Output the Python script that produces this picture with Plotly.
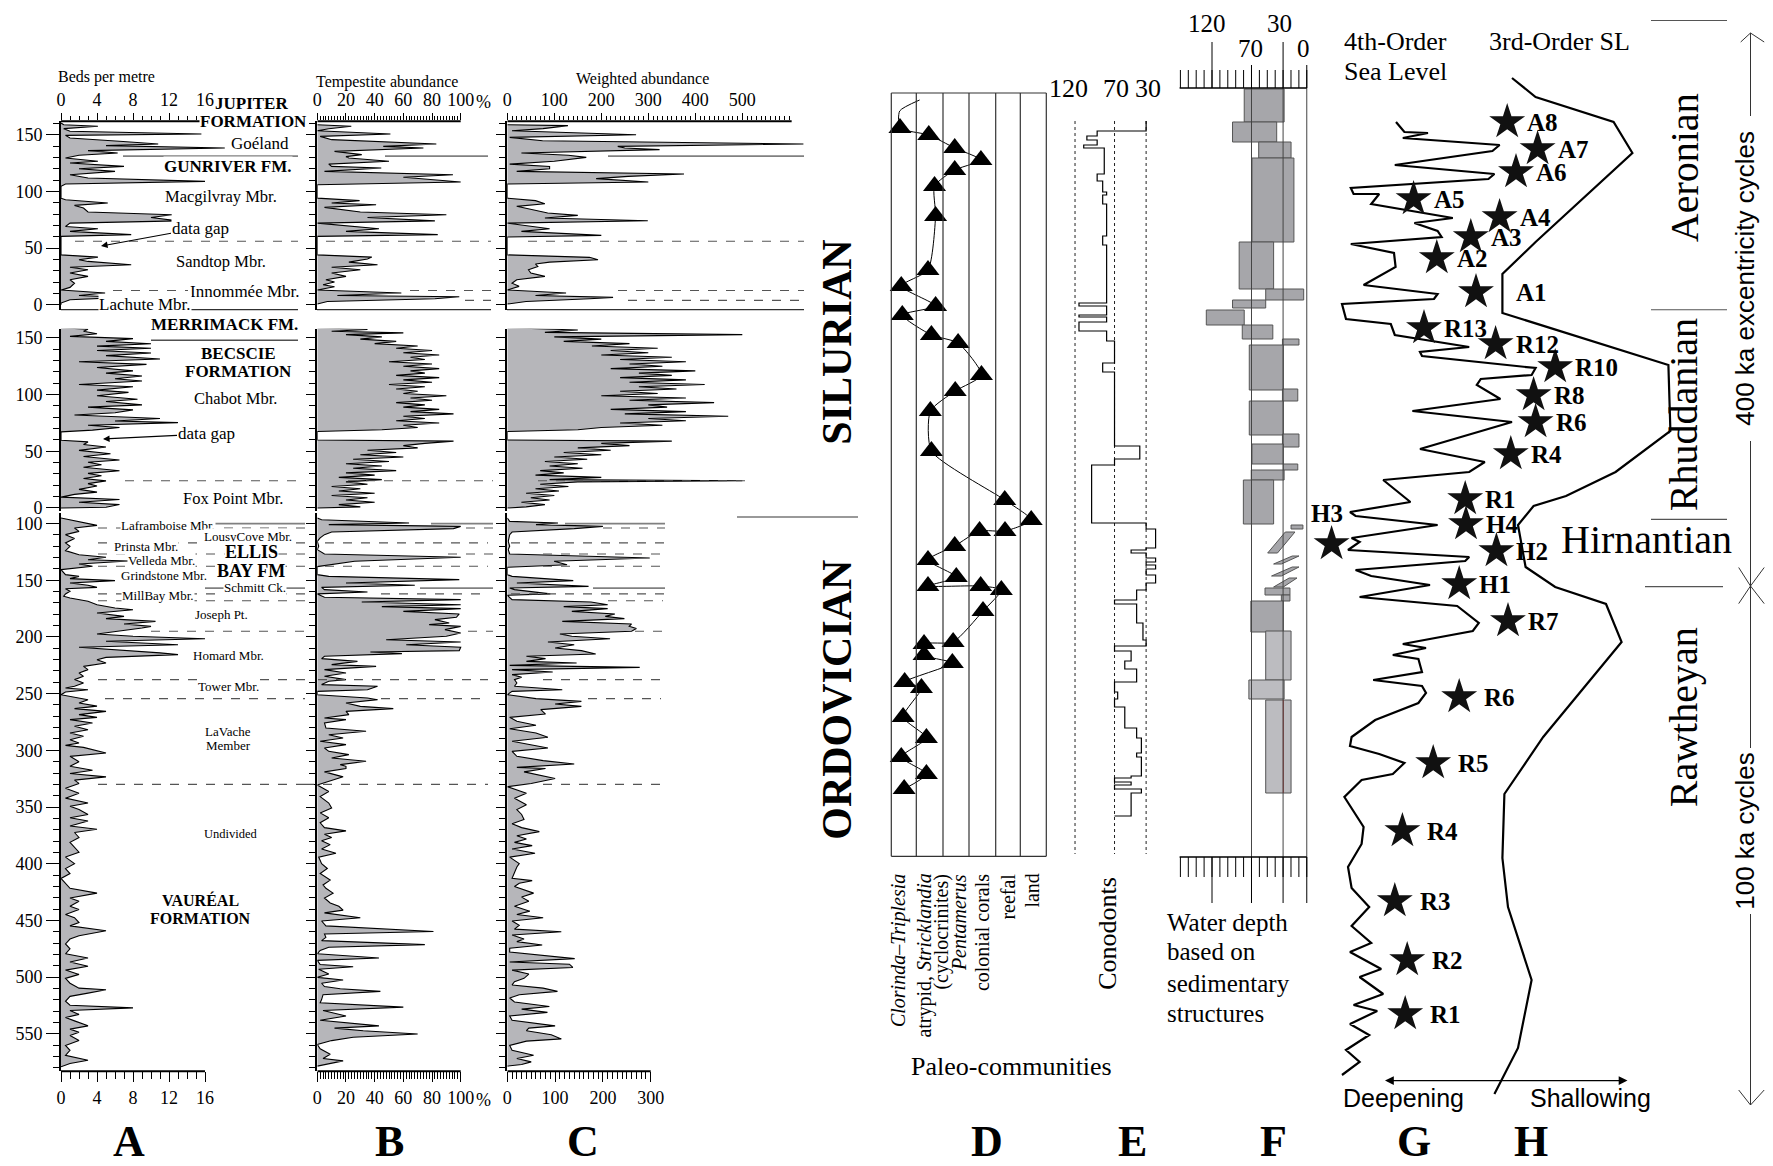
import plotly.graph_objects as go

W, H = 1773, 1166
SERIF = "Liberation Serif, Times New Roman, serif"
SANS = "Liberation Sans, Arial, sans-serif"
FILL = "#b6b6ba"

# ======================= DATA =======================
# Panels A-C : (stratigraphic position in m, value)
# Upper section (Jupiter / Gunriver), height in m
beds_upper = [(160.3,0),(158.8,0.3),(157.4,4.1),(155.3,0.3),(153,1),(150.6,15.6),(149.4,0.5),(147,1),(144,6.9),
 (141.8,10.8),(140.3,5),(138.2,18.2),(135.9,3),(133.8,6.3),(131.8,2),(129.4,0.5),(126.5,4.1),(125,1),(122,7),
 (120,2),(117.6,6),(114.7,1),(111.8,3),(108.8,16),(106.5,0.5),(104.4,0),(94,0),(92.6,0.5),(89.7,5.2),(87.6,1.5),
 (85.3,2.5),(81.8,3),(79.4,12.3),(77,10),(74,13),(72,1),(69,0.5),(67,4.1),(64.7,1),(61.8,7.8),(60.3,0),(44,0),
 (42,4.1),(39.7,2),(38.2,3),(35.3,7.8),(33,1),(30.9,3),(28,1),(25,3),(22,1),(19,1.5),(15.3,1),(13,0),(10.3,4.9),
 (8.2,2),(6.5,7),(4.4,1),(1.5,0),(0,0)]
temp_upper = [(158.8,0),(157.4,23.7),(155.3,8),(153.5,0),(150.6,51),(148.5,2),(145.6,10),(141.8,83),(139.7,46),
 (138.2,74),(135.3,12),(132.4,31),(130.6,20),(129.4,22),(126.5,50),(124,8),(122,10),(120.6,44.6),(117.6,5),
 (114.7,94.6),(112.4,60),(108.2,100),(105.9,0),(94,0),(91.8,29.5),(89.7,10),(88.2,41),(85.9,5),(81.8,30),(79.4,90),
 (77,35),(74,82),(72,0),(67,43),(64.7,20),(61.8,84),(60.3,0),(44,0),(42,38),(40.3,35),(37.6,22),(35.3,42),(33,10),
 (30.9,30),(28,10),(25,20),(22,6),(20,12),(17.6,4),(15.9,12),(13,0),(10.3,58.6),(8.2,14),(7,99),(5.3,82),(2.9,7),(0.6,0)]
wab_upper = [(158.8,0),(158,129),(155.3,76),(153.5,10),(150,274),(147.6,5),(144.7,75),(141.8,630),(139.7,235),
 (138.2,250),(136.8,324),(133.8,30),(131.8,130),(130,168),(126.5,100),(124,5),(122,90),(120,90),(117.6,20),
 (115.3,376),(113.2,257),(111.2,189),(108.2,300),(106.5,0),(94,0),(91.8,60),(89.1,80),(86.8,20),(80.9,86),(78.8,150),
 (76.5,80),(74.1,299),(72,0),(67,90),(64.7,30),(61.2,200),(59.7,0),(44,0),(41.8,175),(39.7,193),(37.6,90),(35.9,60),
 (33.8,65),(30.9,45),(28,50),(25,80),(22,20),(19,10),(16.2,25),(13,0),(10.3,125),(8.2,60),(6.5,225),(5.3,175),
 (2.9,40),(0.6,0)]

# Becscie section, height in m
beds_becscie = [(159,0),(157.7,3),(156,2.5),(153.8,4),(151.4,1),(149.4,8),(147,5),(144.9,10),(142.8,4),(141,10),
 (139,4),(136.8,10),(134.4,5),(131.5,11),(129,2),(126.7,9.5),(124,4),(121,8),(119,5),(116.5,9),(114,6),(112,9),
 (109,2),(107,8),(104,4),(102,7.5),(99,4),(96,8.5),(94,5),(91,9),(89,3),(86.6,8),(84,6),(82,1.5),(79,11),(76.8,6),
 (75.3,13),(73,3),(71,6.5),(68.7,3.5),(67.2,0),(59.8,0),(58.3,3),(56,2.5),(53.8,5),(50.8,2),(47.8,5.5),(45.4,2.5),
 (42.4,6.5),(40.3,3),(38.2,4.5),(35.9,2.5),(32.9,6.5),(30.5,3),(28.4,4.5),(26,2.5),(23.9,5),(21.5,3),(19.4,4),
 (16.4,2),(14,4),(12,1.5),(9.6,0),(7.5,6.5),(5.1,2),(3,6.5),(0.6,5),(0,0)]
temp_becscie = [(159,0),(157.5,35),(156,10),(154.5,60),(153,20),(151,45),(149,30),(147,55),(145,40),(143,70),(141,55),
 (139,80),(137,60),(135,85),(133,65),(131,75),(129,50),(127,80),(125,60),(123,85),(121,65),(119,75),(117,55),(115,85),
 (113,60),(111,80),(109,50),(107,75),(105,55),(103,70),(101,60),(99,90),(97,65),(95,80),(93,55),(91,75),(89,60),
 (87,85),(85,65),(83,95),(81,60),(79,75),(77,55),(75,85),(73,60),(71,70),(69,45),(67.5,0),(60,0),(59,95),(57,75),
 (55,60),(53,70),(51,35),(49,55),(47,30),(45,60),(43,25),(41,50),(39,20),(37,45),(35,25),(33,55),(31,20),(29,40),
 (27,15),(25,45),(23,20),(21,35),(19,10),(17,30),(15,15),(13,40),(11,10),(9,35),(7,20),(5,40),(3,15),(1,30),(0,0)]
wab_becscie = [(159,0),(157,150),(155,80),(153,500),(151,100),(149,200),(147,120),(145,260),(143,180),(141,320),
 (139,220),(137,300),(135,200),(133,350),(131,240),(129,380),(127,260),(125,330),(123,220),(121,400),(119,280),
 (117,350),(115,240),(113,380),(111,260),(109,420),(107,280),(105,360),(103,240),(101,320),(99,200),(97,380),
 (95,260),(93,440),(91,300),(89,340),(87,220),(85,380),(83,250),(81,470),(79,300),(77,380),(75,240),(73,330),
 (71,200),(69,150),(67.5,0),(60,0),(59,350),(57,200),(55,260),(53,150),(51,220),(49,120),(47,200),(45,100),
 (43,170),(41,80),(39,150),(37,90),(35,160),(33,70),(31,120),(29,60),(27,200),(25,90),(24,500),(23,150),(21,70),
 (19,130),(17,60),(15,110),(13,40),(11,100),(9,50),(7,90),(5,30),(3,80),(1,40),(0,0)]

# Ellis Bay / Vaureal section, depth in m
beds_lower = [(95,0),(96.5,1),(99.4,3),(101.5,4),(103.8,1.5),(106.8,2),(109.7,0.5),(113.2,1.5),(117,0.5),(120,1),
 (123.8,0.5),(127.4,2),(129.7,5),(131.8,3),(133,7.5),(135.6,2),(137.6,3.5),(140.6,0),(145,0.5),(146.5,2),(148.5,1),
 (150.3,6),(152.4,1),(154.4,3),(156.2,4),(157.4,0.5),(159.7,1),(162,0.5),(164,0.3),(165.6,1),(168.5,3),(171.5,4),
 (174.4,6),(175.9,8),(178.8,4),(181.8,7),(183.8,5),(186.2,10.5),(188.5,7),(190.6,10),(192,9),(195,6),(197.4,4),
 (199.4,8),(201.5,16),(203.8,5),(206.8,13),(209,2),(211,6),(214,11),(215.6,13),(218,5),(220,4),(223,5),(225.9,2.5),
 (228.8,3),(231.8,2),(234.7,2.5),(237.6,1.5),(240.6,2.5),(243.5,1.5),(245,0.5),(246.5,3),(248.5,0.5),(250.9,0),
 (252.4,1),(255.3,3),(258.2,2),(261,4),(263.2,1.5),(265.6,5),(268.5,2),(270.9,4),(272.9,1),(275.9,3.5),(278.8,1.5),
 (281.8,3),(284.7,1),(287.6,2.5),(290.6,1),(293.5,2),(295.6,0.5),(297.4,2.5),(302.4,5),(305.3,1),(310,2),(314,1),
 (317.6,3.5),(320.5,1),(323.4,5),(326.3,1.5),(329.2,2),(333.5,0.5),(337.9,2),(342.2,0.5),(346.5,3),(349.4,1),
 (352.3,2),(356.6,3),(359.5,1),(362.4,3),(366.8,1),(369.7,4),(372.5,1.5),(376.9,2),(381.2,1),(385.5,1.5),(389.9,2),
 (394.2,0.5),(400,1.5),(404.3,0.5),(408.7,1),(413,0),(417.3,0.5),(421.7,1),(426,4),(430.3,1),(433.2,2),(437.6,1),
 (440.5,2),(444.8,0.5),(447.7,1.5),(452,2),(454.9,1),(459.2,5),(463.6,2),(466.5,1),(470.8,0.5),(475.1,1),(479.5,0.5),
 (483.2,3),(486.7,1),(490.5,3),(493.9,0.5),(497.7,2),(501.2,0.5),(505.5,1),(509.8,2),(511.3,5),(514.2,3),(517.1,1),
 (521.4,0.5),(524.9,1),(527.2,8),(529.5,1),(533,2),(535.8,0.5),(538.7,1.5),(543.1,3),(546,1),(548.8,2),(551.7,1),
 (556.1,2),(560.4,0.5),(564.7,1),(569.1,0.5),(573.4,3),(576.3,1),(579.2,0)]
temp_lower = [(95,0),(96.5,3),(99.4,64),(100.9,8),(102.4,100),(104.4,95),(107.4,10),(109.7,5),(112.6,2),(115.6,0),
 (120,1),(122.9,0),(126.8,5),(129.7,100),(133.2,26),(136.2,8),(137.9,0),(145,0),(146.5,8),(149.4,99),(152.4,20),
 (154.4,68),(156.2,3),(158.2,5),(160.3,35),(162,0),(165,5),(167,100),(169.1,31),(171.5,100),(173.2,45),(175,100),
 (177.4,60),(179.7,99),(182.6,97),(184.7,82),(187.6,92),(189.1,78),(190.6,100),(193.5,89),(196.5,100),(199.4,90),
 (202.4,48),(204.4,100),(206.8,62),(209.1,100),(212,99),(213.2,37),(214.7,59),(217,5),(219.1,3),(221.5,28),
 (224.4,10),(225.9,41),(228.8,5),(231.8,20),(234.7,5),(237.6,20),(239.1,8),(242,3),(243.5,42),(246.5,35),(248,0),
 (250.9,0),(253.8,35),(255.3,42),(258.2,20),(261.2,30),(263.2,53),(265.6,20),(268.5,22),(271.5,5),(272.9,20),
 (275.9,5),(280.3,6),(283.2,34),(286.2,8),(289.1,18),(292,2),(295,20),(297.9,5),(300.9,8),(303.8,22),(306.8,10),
 (309.7,34),(312.6,16),(314.1,20),(316,20),(319,5),(323.4,18),(327.7,8),(330.6,0),(336.4,8),(340.8,2),(346.5,8),
 (350.9,10),(355.2,2),(359.5,8),(363.9,2),(368.2,5),(371.1,20),(374,5),(376.9,10),(379.8,3),(383.2,9),(387,3),
 (390.8,13),(394.2,1),(400,3),(404.3,7),(408.7,2),(414.5,9),(418.8,4),(421.7,6),(426,11),(430.3,5),(434.7,9),
 (437.6,15),(441,18),(443.4,5),(447.7,30),(450.6,3),(454.9,6),(459.8,81),(462.1,5),(465,6),(467.9,3),(471.4,75),
 (473.7,8),(476.6,2),(479.5,0),(483.2,43),(485.3,0),(489,2),(491,25),(493.1,1),(497.4,8),(500.3,0),(502.6,18),
 (505.5,3),(508.4,5),(510.4,16),(512.7,44),(515.6,4),(519.9,3),(522.8,2),(526.6,60),(529.5,4),(534.4,20),(538.2,2),
 (543.1,43),(545.1,12),(547.4,32),(550.3,70),(553.2,25),(556.1,10),(559.5,0),(563.3,2),(568.2,9),(571.9,4),(574,18),
 (576.3,8),(578.6,0)]
wab_lower = [(95,0),(98,5),(99.4,106),(100.9,60),(102.4,200),(104.4,140),(107.4,10),(109.7,5),(115.6,2),(120,5),
 (122.9,2),(126.8,5),(130.3,298),(133.2,98),(136.2,125),(138.5,0),(145,0),(146.5,10),(150.3,138),(152.4,20),
 (155.3,170),(156.8,5),(158.2,15),(162,90),(163.2,0),(167,10),(169.1,175),(171.5,210),(173.2,118),(175,210),
 (177.4,135),(179.7,225),(181.8,205),(183.8,245),(186.2,115),(188.5,260),(190.6,255),(192.6,270),(195,260),
 (197.4,110),(199.4,135),(201.5,215),(204.4,85),(206.8,140),(209.7,100),(212,155),(215,185),(217,40),(219.1,80),
 (221.5,40),(223,145),(225,5),(226.8,277),(228.8,10),(230.9,95),(233.2,10),(235.6,30),(237.6,15),(240.6,20),
 (243.5,15),(246.5,115),(248,10),(250.9,0),(254.4,60),(256.8,155),(259.1,100),(261.2,155),(264.1,70),(268,80),
 (270.9,5),(274.4,20),(277.9,60),(280.9,5),(284.7,60),(288.5,85),(292,10),(297.9,85),(300.9,10),(305.3,20),
 (309.1,75),(312.1,140),(315,20),(316,80),(319,35),(324.9,100),(329.2,50),(332.1,0),(337.9,40),(342.2,15),(348,40),
 (352.3,20),(356.6,30),(361,35),(364.7,10),(368.2,30),(371.7,67),(375.4,20),(378.3,40),(381.2,15),(384.1,52),(387,10),
 (390.8,58),(394.2,5),(400,25),(402.9,20),(407.2,15),(413,10),(415,52),(417.3,25),(420.2,15),(426,55),(429.5,30),
 (433.2,45),(437.6,15),(441.9,47),(444.8,20),(447.7,75),(450.6,10),(454.3,25),(457.8,15),(460.1,113),(463,10),
 (466.5,35),(468.8,20),(471.7,73),(474.6,5),(478,5),(483.8,141),(486.7,5),(488.7,130),(491.6,137),(493.9,10),
 (497.4,45),(501.2,35),(504.1,15),(507,10),(509.8,75),(512.7,105),(515.6,25),(518.5,5),(522,15),(526,88),(528.3,30),
 (531.2,84),(534.4,5),(538.2,10),(543.1,100),(545.1,45),(547.4,40),(550.9,92),(554.6,113),(556.6,40),(560.4,5),
 (564.7,10),(569.1,55),(571.9,20),(574.9,50),(577.2,30),(578.6,0)]

# member boundaries (m)
upper_dashed = [56.0, 12.6, 3.8]
upper_goeland = 131.0
upper_base = -4.4
becscie_dashed = [24.0]
becscie_merrimack = 148.0
lower_dashed = [103.8, 117.0, 126.8, 137.6, 162.0, 168.0, 195.0, 237.6, 254.4, 330.0]
lower_solid = [100.0, 156.8]

# Right-hand columns share one relative stratigraphic level scale (0 bottom .. 116.6 top)
# D: paleo-communities (community column index, level)
d_lead = [(1.74, 107.4), (0.98, 106.3)]
d_triangles = [(0.99,104.6),(2.09,103.9),(3.08,102.6),(4.08,101.4),(3.08,100.4),(2.31,98.8),(2.35,95.8),(2.06,90.4),
 (1.04,88.8),(2.35,86.8),(1.08,85.9),(2.19,83.9),(3.21,83.1),(4.1,79.9),(3.1,78.3),(2.15,76.3),(2.19,72.3),(4.99,67.4),
 (6.0,65.4),(5.0,64.3),(4.03,64.3),(3.08,62.8),(2.06,61.4),(3.14,59.7),(2.06,58.8),(4.07,58.8),(4.86,58.4),(4.16,56.3),
 (3.02,53.2),(1.91,53.0),(1.91,51.9),(2.99,51.1),(1.17,49.2),(1.81,48.6),(1.11,45.7),(2.0,43.6),(1.04,41.7),(2.0,40.0),
 (1.15,38.5)]
communities = ["<i>Clorinda–Triplesia</i>", "atrypid, <i>Stricklandia</i>", "(cyclocrinites)", "<i>Pentamerus</i>",
               "colonial corals", "reefal", "land"]

# E: conodont water depth (m), step profile: (level where interval starts, depth)
e_steps = [(105.3,30),(104.3,92),(103.8,105),(103.4,92),(102.9,109),(102.6,83),(100.0,92),(99.3,85),(98.2,80),
 (97.9,85),(97.0,80),(93.8,85),(92.9,80),(87.1,115),(86.8,80),(85.9,115),(85.7,80),(85.2,115),(84.3,80),(83.3,70),
 (81.1,85),(80.2,70),(72.8,38),(71.5,70),(70.9,99),(65.1,30),(64.5,18),(62.6,30),(62.4,49),(62.1,30),(61.6,18),
 (61.2,30),(60.9,18),(60.5,30),(59.9,18),(59.1,30),(58.4,42),(57.4,70),(57.0,42),(55.1,34),(53.4,30),(52.8,70),
 (52.3,49),(51.3,57),(50.5,42),(49.2,70),(48.2,66),(47.5,70),(46.7,57),(44.6,42),(43.6,36),(42.1,42),(41.7,36),
 (39.8,49),(39.6,70),(39.2,49),(38.9,70),(38.5,36),(38.1,49),(35.8,70)]
e_ref_depths = [120, 70, 30]

# F: water depth from sedimentary structures: (level top, level bottom, deep limit m, shallow limit m)
f_boxes = [(108.5,105.2,79.2,28.7),(105.2,103.2,94.0,38.1),(103.2,101.6,60.9,19.9),(101.6,93.2,69.4,16.3),
 (93.2,88.5,85.6,42.0),(88.5,87.4,52.0,3.9),(87.4,86.6,94.0,52.0),(86.4,84.9,127.2,79.2),(84.9,83.5,81.7,43.0),
 (83.5,82.9,30.8,9.9),(82.9,78.4,72.8,29.7),(78.5,77.3,30.8,11.4),(77.3,73.9,72.8,29.7),(74.0,72.7,30.8,9.9),
 (73.0,71.0,69.4,29.7),(71.0,70.4,29.7,11.4),(70.4,69.4,70.3,28.7),(69.4,65.0,80.3,42.0),(64.9,64.5,19.9,4.9),
 (58.6,57.9,52.9,21.3),(57.9,57.3,32.2,21.3),(57.3,54.2,70.8,29.7),(54.3,49.4,52.0,19.9),(49.4,47.5,73.3,28.7),
 (47.4,38.1,52.0,19.9)]
f_slants = [[(49.5,62.1),(27.2,64.2),(15.0,64.2),(37.1,62.1)],
            [(42.0,61.0),(18.4,61.8),(9.9,61.8),(32.2,61.0)],
            [(44.6,59.8),(18.4,60.7),(9.9,60.7),(32.2,59.8)],
            [(42.0,58.7),(22.3,59.6),(12.4,59.6),(29.7,58.7)]]
f_ref_depths = [70, 30, 0]

# G: 4th-order sea level (relative, shallowing to the right), H: 3rd-order sea level
g_curve = [(22,105.2),(24.1,104.2),(30,104.1),(23.7,103.6),(47.9,102.9),(46.1,102.3),(21.7,100.9),(46.6,100),
 (45.1,99.5),(10.7,98.6),(11.4,98),(17.8,98),(15.8,97.0),(24.1,96.4),(36.2,95.6),(26.6,95.1),(32.4,94.3),(33.4,93.7),
 (10.7,93),(21.5,92.1),(21.9,90.7),(13.9,88.9),(32.4,88),(31.5,87.5),(8.5,87),(9.5,85.5),(20.7,85),(21.7,83.9),
 (40.3,82.7),(28,82.2),(28.5,81.8),(56.9,80.6),(55.9,79.9),(43.2,79.5),(42.2,78.9),(48.1,77.5),(26.1,76.3),(51,75.2),
 (28,72.5),(44.2,71.2),(40.3,70.2),(18.8,69.4),(25.6,67.2),(10.5,66.2),(11.9,65.8),(32.4,64.9),(10.9,63.6),
 (12.9,63.2),(10,62.4),(40.3,61.7),(39.3,61.3),(11.9,60.4),(15.8,59.8),(30.5,58.9),(27.6,58.7),(12.9,57.7),
 (37.3,56.8),(42.7,55.1),(41.2,54.3),(23.7,53),(29.5,52.6),(21.2,51.9),(27.6,51.5),(28.5,50.2),(16.3,49.4),
 (28.5,48.8),(29.5,48.1),(27.6,47.1),(16.8,45.4),(10.9,43.7),(10.5,42.8),(17.8,42),(24.1,41.1),(21.2,40),(13.4,39.4),
 (9.1,37.7),(13.9,34.7),(13.4,33),(10,30.7),(10.9,28.6),(15.3,26.7),(10.9,24.8),(15.8,23.1),(10.5,22.2),(18.3,20.5),
 (12.9,19.7),(18.8,18),(11.4,16.9),(17.3,16.3),(10.5,15),(15.3,13.9),(9.5,12.4),(12.9,11.2),(8.5,9.9)]
h_curve = [(51,109.6),(56.9,107.7),(76.4,105.2),(81.1,102.1),(56.9,93.2),(48.6,90),(48.6,86.1),(90.1,80.9),
 (90.6,74.3),(76.9,70.2),(64.5,67.8),(56.4,66.8),(52.5,64.9),(54.4,60.7),(61.8,58.7),(74.5,57),(78.4,53.2),
 (58.8,43.7),(49.1,38),(48.6,31.6),(50,26.7),(55.9,19.4),(52.5,12.6),(46.6,8)]
star_names = ['A8','A7','A6','A5','A4','A3','A2','A1','R13','R12','R10','R8','R6','R4','R1','H4','H3','H2','H1',
              'R7','R6','R5','R4','R3','R2','R1']
star_x = [49.8,57.4,52,26.4,47.9,40.7,32.2,42,29,46.9,61.8,56.4,56.9,50.7,39.3,39.5,5.9,47.1,37.8,50,37.8,31.3,23.6,
          21.7,24.8,24.3]
star_level = [105.2,102.5,100.2,97.5,95.7,93.7,91.6,88.2,84.6,83,80.7,77.9,75.2,72,67.5,65,63,62.3,59,55.3,47.7,41.1,
              34.3,27.3,21.4,16]

# ======================= FIGURE =======================
fig = go.Figure()
shapes, annots = [], []
layout = dict(width=W, height=H, margin=dict(l=0, r=0, t=0, b=0), paper_bgcolor='white',
              plot_bgcolor='rgba(0,0,0,0)', showlegend=False, template='none')


def tref(i, a):
    return a if i == 1 else f"{a}{i}"


def lkey(i, a):
    return f"{a}axis" if i == 1 else f"{a}axis{i}"


def dx(a, b):
    return [a / W, b / W]


def dy(top, bot):
    return [1 - bot / H, 1 - top / H]


def txt(x, y, s, size, family=SERIF, angle=0, xanchor='center', yanchor='middle', bg=None):
    # compensate for the text box being centred lower than the glyphs
    if angle == 0 and yanchor == 'middle':
        y -= 0.28 * size
    if angle == -90 and xanchor == 'center':
        x -= 0.22 * size
    d = dict(x=x / W, y=1 - y / H, xref='paper', yref='paper', text=s, showarrow=False,
             font=dict(family=family, size=size, color='black'), textangle=angle,
             xanchor=xanchor, yanchor=yanchor)
    if bg:
        d.update(bgcolor=bg, borderpad=0)
    annots.append(d)


def pline(x0, y0, x1, y1, color='black', width=1.0, dash='solid'):
    shapes.append(dict(type='line', xref='paper', yref='paper', x0=x0 / W, x1=x1 / W, y0=1 - y0 / H,
                       y1=1 - y1 / H, line=dict(color=color, width=width, dash=dash), layer='above'))


def dline(x0, x1, yref, yv, color='#555', width=1.1, dash='dash'):
    shapes.append(dict(type='line', xref='paper', yref=yref, x0=x0 / W, x1=x1 / W, y0=yv, y1=yv,
                       line=dict(color=color, width=width, dash=dash), layer='above'))


SECTIONS = {'upper': dict(top=113.3, bot=302.4, yr=[-5, 161.8]),
            'becscie': dict(top=320.7, bot=502.7, yr=[-2.4, 158.2]),
            'lower': dict(top=505.0, bot=1063.3, yr=[583.2, 90.6])}
PANELS = [(1, 'A', 'upper', beds_upper, 53, 290, 9.0), (2, 'A', 'becscie', beds_becscie, 53, 290, 9.0),
          (3, 'A', 'lower', beds_lower, 53, 290, 9.0),
          (4, 'B', 'upper', temp_upper, 309.3, 490, 1.434), (5, 'B', 'becscie', temp_becscie, 309.3, 490, 1.434),
          (6, 'B', 'lower', temp_lower, 309.3, 490, 1.434),
          (7, 'C', 'upper', wab_upper, 499.3, 800, 0.47), (8, 'C', 'becscie', wab_becscie, 499.3, 800, 0.47),
          (9, 'C', 'lower', wab_lower, 499.3, 660, 0.478)]
RULERS = {
    'A': dict(tv=[0, 4, 8, 12, 16], tt=['0', '4', '8', '12', '16'], mv=list(range(0, 17)), end=16),
    'B': dict(tv=list(range(0, 101, 10)), tt=['0', '', '20', '', '40', '', '60', '', '80', '', '100'],
              mv=list(range(0, 101, 2)), end=100),
    'Cupper': dict(tv=list(range(0, 601, 50)),
                   tt=['0', '', '100', '', '200', '', '300', '', '400', '', '500', '', ''],
                   mv=list(range(0, 601, 10)), end=605),
    'Clower': dict(tv=list(range(0, 301, 50)), tt=['0', '', '100', '', '200', '', '300'],
                   mv=list(range(0, 301, 10)), end=300),
}

for idx, col, sec, data, xl, xr, scale in PANELS:
    S = SECTIONS[sec]
    fig.add_trace(go.Scatter(x=[p[1] for p in data], y=[p[0] for p in data], xaxis=tref(idx, 'x'),
                             yaxis=tref(idx, 'y'), mode='lines', fill='tozerox', fillcolor=FILL,
                             line=dict(color='black', width=1.1), hoverinfo='skip'))
    rk = col if col != 'C' else ('Clower' if sec == 'lower' else 'Cupper')
    R = RULERS[rk]
    xa = dict(domain=dx(xl, xr), range=[0, (xr - xl) / scale], anchor=tref(idx, 'y'), showgrid=False,
              zeroline=False, showline=False)
    if sec == 'becscie':
        xa.update(visible=False)
    else:
        top = sec == 'upper'
        xa.update(side='top' if top else 'bottom', ticks='outside', tickvals=R['tv'], ticktext=R['tt'],
                  tickangle=0, ticklen=7 if top else 10, tickwidth=1.2, tickcolor='black',
                  tickfont=dict(family=SERIF, size=18, color='black'),
                  minor=dict(tickmode='array', tickvals=R['mv'], ticks='outside', ticklen=4 if top else 7,
                             tickwidth=1, tickcolor='black'))
        yline = S['top'] if top else S['bot']
        shapes.append(dict(type='line', xref=tref(idx, 'x'), yref='paper', x0=0, x1=R['end'],
                           y0=1 - yline / H, y1=1 - yline / H, line=dict(color='black', width=2)))
    layout[lkey(idx, 'x')] = xa
    if sec == 'lower':
        major = list(range(100, 551, 50))
        minor = [v for v in range(100, 581, 10) if v % 50]
    else:
        major = [0, 50, 100, 150]
        minor = [v for v in range(0, 161, 10) if v % 50]
    labels = col == 'A'
    layout[lkey(idx, 'y')] = dict(domain=dy(S['top'], S['bot']), range=S['yr'], anchor=tref(idx, 'x'),
                                  showline=True, linecolor='black', linewidth=2, ticks='outside',
                                  ticklen=13 if labels else 9, tickwidth=1.3, tickcolor='black', tickvals=major,
                                  showticklabels=labels, tickfont=dict(family=SERIF, size=18, color='black'),
                                  minor=dict(tickmode='array', tickvals=minor, ticks='outside', ticklen=6,
                                             tickwidth=1.1, tickcolor='black'),
                                  showgrid=False, zeroline=False)

# percent signs after the "100" of the tempestite rulers
txt(466, 99.5, "%", 18, xanchor='left')
txt(466, 1097, "%", 18, xanchor='left')

# ---- member boundaries, left panels
seg_upper = {56.0: [(67, 290), (318, 483), (520, 796)], 12.6: [(105, 180), (402, 483), (610, 796)],
             3.8: [(147, 180), (457, 483), (620, 796)]}
for dv in upper_dashed:
    for a, b in seg_upper[dv]:
        dline(a, b, 'y', dv)
for a, b in [(115, 290), (377, 480), (600, 796)]:
    dline(a, b, 'y', upper_goeland, color='#808080', width=1.8, dash='solid')
for a, b in [(53, 290), (309, 483), (499, 796)]:
    dline(a, b, 'y', upper_base, color='#303030', width=1.5, dash='solid')
for dv in becscie_dashed:
    for a, b in [(117, 290), (340, 485), (530, 740)]:
        dline(a, b, 'y2', dv)
dline(143, 290, 'y2', becscie_merrimack, color='#505050', width=1.5, dash='solid')
seg_lower = {103.8: [(90, 297), (458, 485), (595, 657)], 117.0: [(90, 297), (317, 480), (503, 657)],
             126.8: [(90, 297), (440, 485), (535, 657)], 137.6: [(90, 297), (317, 480), (535, 657)],
             162.0: [(90, 297), (373, 480), (503, 657)], 168.0: [(90, 297), (600, 655)],
             195.0: [(143, 297), (460, 485), (627, 657)], 237.6: [(90, 297), (310, 480), (535, 653)],
             254.4: [(97, 297), (373, 480), (580, 653)], 330.0: [(90, 297), (297, 480), (535, 653)]}
for dv in lower_dashed:
    for a, b in seg_lower[dv]:
        dline(a, b, 'y3', dv)
seg_solid = {100.0: [(207, 297), (423, 485), (557, 657)], 156.8: [(197, 297), (412, 485), (585, 657)]}
for dv in lower_solid:
    for a, b in seg_solid[dv]:
        dline(a, b, 'y3', dv, color='#808080', width=1.8, dash='solid')

# ---- left panel texts
txt(48, 73, "Beds per metre", 16, xanchor='left')
txt(306, 78, "Tempestite abundance", 16, xanchor='left')
txt(566, 75, "Weighted abundance", 16, xanchor='left')
for s, x, y, size in [("<b>JUPITER</b>", 243, 100, 17), ("<b>FORMATION</b>", 246, 118, 17),
                      ("Goéland", 252, 140, 17), ("<b>GUNRIVER FM.</b>", 220, 163, 17),
                      ("Macgilvray Mbr.", 213, 193, 16.5), ("Sandtop Mbr.", 213, 258, 16.5),
                      ("Innommée Mbr.", 237, 288, 17), ("Lachute Mbr.", 137, 301, 17),
                      ("<b>MERRIMACK FM.</b>", 216, 321, 17), ("<b>BECSCIE</b>", 230, 350, 17),
                      ("<b>FORMATION</b>", 230, 368, 17), ("Chabot Mbr.", 228, 395, 16.5),
                      ("Fox Point Mbr.", 225, 495, 16.5),
                      ("Laframboise Mbr.", 160, 521, 13), ("LousyCove Mbr.", 240, 532, 13),
                      ("Prinsta Mbr.", 138, 542, 13), ("<b>ELLIS</b>", 243, 549, 18),
                      ("Velleda Mbr.", 153, 556, 13), ("Grindstone Mbr.", 156, 571, 13),
                      ("<b>BAY FM</b>", 243, 568, 18), ("Schmitt Ck.", 247, 583, 13),
                      ("MillBay Mbr.", 150, 591, 13), ("Joseph Pt.", 213, 610, 13), ("Homard Mbr.", 220, 651, 13),
                      ("Tower Mbr.", 220, 682, 13), ("LaVache", 220, 727, 13), ("Member", 220, 741, 13),
                      ("Undivided", 223, 830, 12.5), ("<b>VAURÉAL</b>", 192, 896, 16),
                      ("<b>FORMATION</b>", 192, 915, 16)]:
    txt(x, y, s, size, bg='white')
for tip, tx in [((93, 238), (192, 220)), ((95, 431), (198, 426))]:
    annots.append(dict(x=tip[0] / W, y=1 - tip[1] / H, xref='paper', yref='paper', text="data gap",
                       showarrow=True, ax=tx[0] - tip[0], ay=tx[1] - tip[1], axref='pixel', ayref='pixel',
                       arrowhead=2, arrowsize=1.2, arrowwidth=1.1, arrowcolor='black',
                       font=dict(family=SERIF, size=17, color='black'), bgcolor='white', borderpad=0))

# ---- right side axes
layout['yaxis10'] = dict(domain=[0, 1], range=[0, 116.6], visible=False, anchor='x10')
layout['xaxis10'] = dict(domain=dx(883.3, 1038.3), range=[0.66, 6.576], visible=False, anchor='y10')
layout['xaxis11'] = dict(domain=dx(1060, 1160), range=[128.9, 2.3], visible=False, anchor='y10')
layout['xaxis12'] = dict(domain=dx(1160, 1310), range=[175.7, -14.2], visible=False, anchor='y10')
layout['xaxis13'] = dict(domain=dx(1300, 1700), range=[0, 100], visible=False, anchor='y10')

# ---- D paleo-communities
for xp in [883.3, 908.3, 935, 961, 987.7, 1012.3, 1038.3]:
    pline(xp, 85, xp, 848.3, color='#333', width=1.2)
pline(883.3, 85, 1038.3, 85, color='#333', width=1.2)
pline(883.3, 848.3, 1038.3, 848.3, color='#333', width=1.2)
path = d_lead + d_triangles
fig.add_trace(go.Scatter(x=[p[0] for p in path], y=[p[1] for p in path], xaxis='x10', yaxis='y10', mode='lines',
                         line=dict(color='black', width=1, shape='spline', smoothing=0.6), hoverinfo='skip'))
fig.add_trace(go.Scatter(x=[p[0] for p in d_triangles], y=[p[1] for p in d_triangles], xaxis='x10', yaxis='y10',
                         mode='markers', marker=dict(symbol='triangle-up', size=20, color='black'),
                         cliponaxis=False, hoverinfo='skip'))
for s, x in zip(communities, [895, 920, 937, 955, 978, 1004, 1028]):
    txt(x, 864, s, 20, angle=-90, yanchor='top')
txt(1003, 1066, "Paleo-communities", 26)
txt(838, 334, "<b>SILURIAN</b>", 42, angle=-90)
txt(838, 692, "<b>ORDOVICIAN</b>", 42, angle=-90)
pline(729, 509, 850, 509, color='#777', width=1.5)

# ---- E conodonts
for v in e_ref_depths:
    shapes.append(dict(type='line', xref='x11', yref='y10', x0=v, x1=v, y0=105.3, y1=32.0,
                       line=dict(color='#222', width=1, dash='dot'), layer='below'))
fig.add_trace(go.Scatter(x=[p[1] for p in e_steps], y=[p[0] for p in e_steps], xaxis='x11', yaxis='y10',
                         mode='lines', line=dict(color='black', width=1.2, shape='vh'), hoverinfo='skip'))
for s, x in [("120", 1060), ("70", 1108), ("30", 1140)]:
    txt(x, 88, s, 26)
txt(1105, 867, "Conodonts", 26, angle=-90, yanchor='top')

# ---- F water depth
for k, (lt, lb, vd, vs) in enumerate(f_boxes):
    col = '#bcbcc0' if k >= len(f_boxes) - 3 else '#a6a6aa'
    fig.add_trace(go.Scatter(x=[vd, vs, vs, vd, vd], y=[lt, lt, lb, lb, lt], xaxis='x12', yaxis='y10', mode='lines',
                             fill='toself', fillcolor=col, line=dict(color='#555', width=1), hoverinfo='skip'))
for poly in f_slants:
    fig.add_trace(go.Scatter(x=[p[0] for p in poly] + [poly[0][0]], y=[p[1] for p in poly] + [poly[0][1]],
                             xaxis='x12', yaxis='y10', mode='lines', fill='toself', fillcolor='#a6a6aa',
                             line=dict(color='#555', width=1), hoverinfo='skip'))
shapes.append(dict(type='line', xref='x12', yref='y10', x0=29.7, x1=29.7, y0=47.4, y1=38.1,
                   line=dict(color='#a03030', width=1)))
for v in f_ref_depths:
    shapes.append(dict(type='line', xref='x12', yref='y10', x0=v, x1=v, y0=108.6, y1=31.7,
                       line=dict(color='#444', width=1), layer='above'))
for lv, tick_to in [(108.6, 110.4), (31.7, 29.7)]:
    shapes.append(dict(type='line', xref='x12', yref='y10', x0=161, x1=0, y0=lv, y1=lv,
                       line=dict(color='black', width=1.3)))
    for v in range(0, 161, 10):
        shapes.append(dict(type='line', xref='x12', yref='y10', x0=v, x1=v, y0=lv, y1=tick_to,
                           line=dict(color='black', width=1)))
for v, top in [(120, 113.2), (30, 113.2), (70, 110.9), (0, 110.9)]:
    shapes.append(dict(type='line', xref='x12', yref='y10', x0=v, x1=v, y0=108.6, y1=top,
                       line=dict(color='black', width=1)))
for v in [120, 70, 30, 0]:
    shapes.append(dict(type='line', xref='x12', yref='y10', x0=v, x1=v, y0=31.7, y1=27.1,
                       line=dict(color='black', width=1)))
for s, x in [("120", 1199), ("30", 1271)]:
    txt(x, 0, s, 25, yanchor='top')
for s, x in [("70", 1242), ("0", 1295)]:
    txt(x, 47, s, 25)
for s, y in [("Water depth", 921), ("based on", 950), ("sedimentary", 982), ("structures", 1012)]:
    txt(1157, y, s, 25, xanchor='left')

# ---- G / H sea-level curves
fig.add_trace(go.Scatter(x=[p[0] for p in g_curve], y=[p[1] for p in g_curve], xaxis='x13', yaxis='y10',
                         mode='lines', line=dict(color='black', width=2.2), hoverinfo='skip'))
fig.add_trace(go.Scatter(x=[p[0] for p in h_curve], y=[p[1] for p in h_curve], xaxis='x13', yaxis='y10',
                         mode='lines', line=dict(color='black', width=2.2), hoverinfo='skip'))
fig.add_trace(go.Scatter(x=star_x, y=star_level, xaxis='x13', yaxis='y10', mode='markers', cliponaxis=False,
                         marker=dict(symbol='star', size=27, color='#111', line=dict(width=0)), hoverinfo='skip'))
for i, (nmv, sx, sl) in enumerate(zip(star_names, star_x, star_level)):
    a = dict(x=sx, y=sl, xref='x13', yref='y10', text=f"<b>{nmv}</b>", showarrow=False,
             font=dict(family=SERIF, size=25, color='black'), xanchor='left', yanchor='middle', xshift=18)
    if nmv == 'A1':
        a.update(xshift=38)
    elif nmv == 'H3':
        a.update(xanchor='center', xshift=-5, yshift=31)
    elif i >= 20:
        a.update(xshift=23)
    annots.append(a)
txt(1334, 41, "4th-Order", 26, xanchor='left')
txt(1334, 71, "Sea Level", 26, xanchor='left')
txt(1479, 41, "3rd-Order SL", 26, xanchor='left')
annots.append(dict(x=1377 / W, y=1 - 1072.6 / H, xref='paper', yref='paper', text='', showarrow=True,
                   ax=244, ay=0, axref='pixel', ayref='pixel', arrowhead=2, startarrowhead=2, arrowside='end+start',
                   arrowsize=1.6, arrowwidth=1.1, arrowcolor='black'))
txt(1395, 1097, "Deepening", 25, family=SANS)
txt(1582, 1097, "Shallowing", 25, family=SANS)

# ---- stages and cycles
for y in [12.5, 301.8, 511.4]:
    pline(1643, y, 1719, y, color='#555', width=1.1)
pline(1637, 578.6, 1715, 578.6, color='#555', width=1.1)
txt(1686, 160, "Aeronian", 40, angle=-90)
txt(1684, 407, "Rhuddanian", 40, angle=-90)
txt(1638, 543, "Hirnantian", 40)
txt(1684, 709, "Rawtheyan", 40, angle=-90)
for y0, y1 in [(25, 108), (433, 740), (906, 1097)]:
    pline(1742.5, y0, 1742.5, y1, color='#333', width=1)
for pts in [[(1732.7, 34), (1742.5, 25), (1756.2, 34)], [(1730.7, 1082), (1742.5, 1097), (1756.2, 1082)],
            [(1730.7, 559.5), (1742.5, 578), (1756.2, 559.5)], [(1730.7, 595.6), (1742.5, 578), (1756.2, 595.6)]]:
    pline(pts[0][0], pts[0][1], pts[1][0], pts[1][1], color='#333', width=1)
    pline(pts[1][0], pts[1][1], pts[2][0], pts[2][1], color='#333', width=1)
txt(1742.5, 270, "400 ka excentricity cycles", 26, family=SANS, angle=-90)
txt(1742.5, 823, "100 ka cycles", 26, family=SANS, angle=-90)

# ---- panel letters
for s, x in [("A", 121), ("B", 381), ("C", 575), ("D", 979), ("E", 1124), ("F", 1265), ("G", 1406), ("H", 1523)]:
    txt(x, 1146, f"<b>{s}</b>", 44)

layout['shapes'] = shapes
layout['annotations'] = annots
fig.update_layout(**layout)
fig.write_html("out.html")
